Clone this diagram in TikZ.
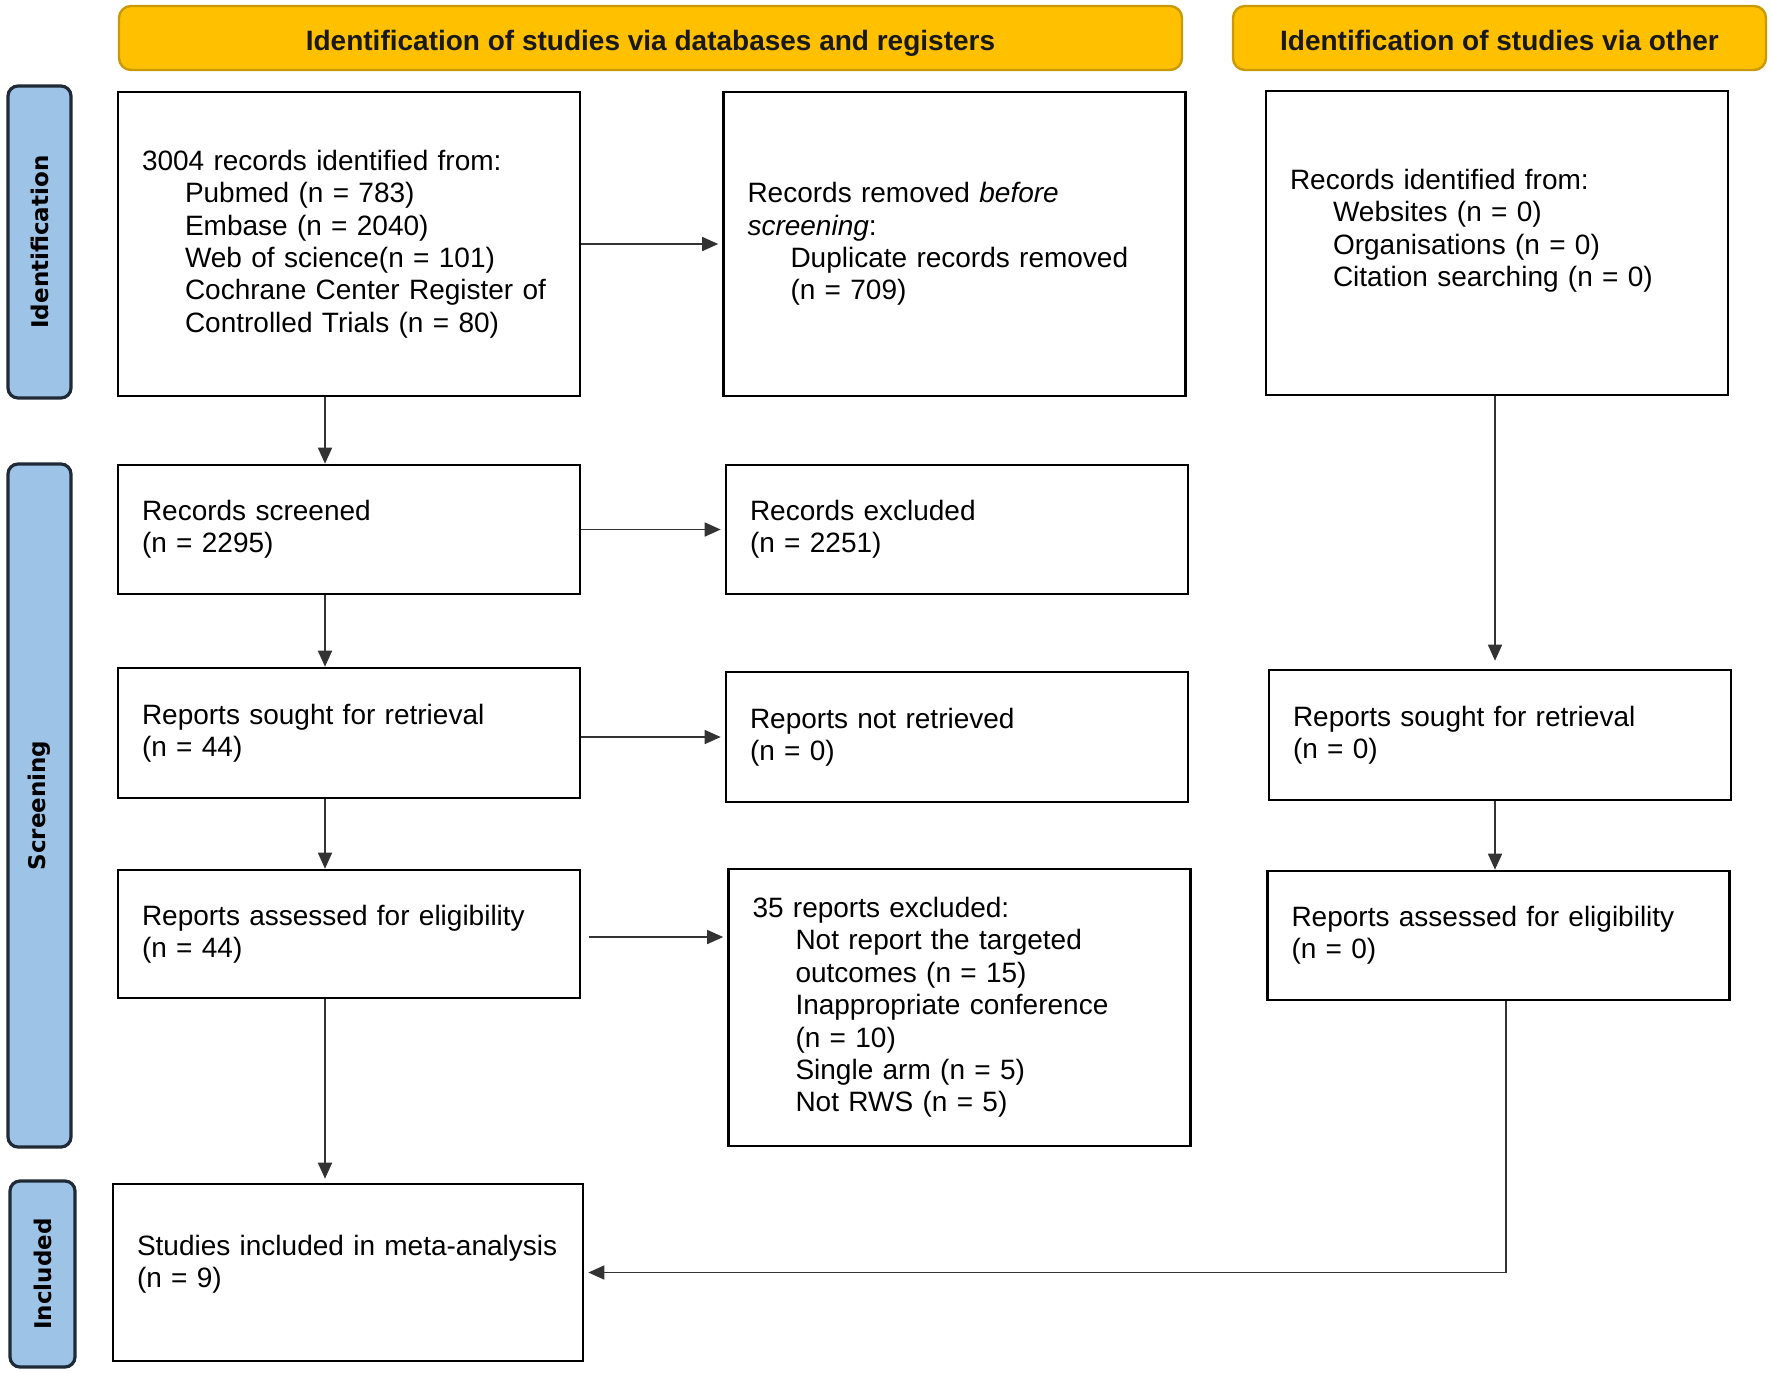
\documentclass[tikz,border=0pt]{standalone}
\usepackage{fontspec}
\setmainfont{Liberation Sans}
\newfontfamily\sidefont{DejaVu Sans}
\usetikzlibrary{arrows.meta,calc}
\definecolor{hdrfill}{HTML}{FFC000}
\definecolor{hdrline}{HTML}{C99A06}
\definecolor{sidefill}{HTML}{9DC3E6}
\definecolor{sideline}{HTML}{1F2A36}
\definecolor{conn}{HTML}{333333}
\begin{document}
\begin{tikzpicture}[x=0.5pt,y=-0.5pt,
  box/.style={draw=black, line width=1.3pt, fill=white, inner xsep=12pt, inner ysep=4pt,
    align=left, text width=207pt, minimum width=231pt,
    font=\fontsize{14}{16.2}\selectfont},
  hdr/.style={draw=hdrline, fill=hdrfill, line width=1.2pt, rounded corners=6pt,
    minimum height=32pt, text height=13pt, text depth=1pt,
    font=\bfseries\fontsize{14}{16}\selectfont, text=black!90},
  side/.style={draw=sideline, fill=sidefill, line width=1.6pt, rounded corners=5pt,
    rotate=90, font=\sidefont\fontsize{11.5}{13}\selectfont\bfseries},
  arr/.style={draw=conn, line width=0.8pt, -{Triangle[length=8pt,width=7pt]}}
]
\useasboundingbox (0,0) rectangle (1772,1373);
\newcommand{\indt}{\hspace*{21.5pt}}

% headers
\node[hdr, minimum width=531.5pt] (h1) at (650.5,38) {Identification of studies via databases and registers};
\node[hdr, minimum width=266.5pt] (h2) at (1499.5,38) {Identification of studies via other};

% side labels
\node[side, minimum width=156pt, minimum height=31.5pt] (sid) at (39.5,242) {Identification};
\node[side, minimum width=341.5pt, minimum height=31.5pt] (ssc) at (39.5,805.5) {Screening};
\node[side, minimum width=93pt, minimum height=32.5pt] (sin) at (42.5,1274) {Included};

% boxes
\node[box, minimum height=152pt] (b1) at (349,244) {3004 records identified from:\\
\indt Pubmed (n = 783)\\
\indt Embase (n = 2040)\\
\indt Web of science(n = 101)\\
\indt Cochrane Center Register of\\
\indt Controlled Trials (n = 80)};

\node[box, minimum height=152pt] (b2) at (954.5,244) {Records removed \textit{before}\\
\textit{screening}:\\
\indt Duplicate records removed\\
\indt (n = 709)};

\node[box, minimum height=152pt] (b3) at (1497,243) {Records identified from:\\
\indt Websites (n = 0)\\
\indt Organisations (n = 0)\\
\indt Citation searching (n = 0)\\[-1pt]\mbox{}};

\node[box, minimum height=64.5pt] (scr) at (349,529.5) {Records screened\\(n = 2295)};
\node[box, minimum height=64.5pt] (exc) at (957,529.5) {Records excluded\\(n = 2251)};

\node[box, minimum height=65pt] (sou) at (349,733) {Reports sought for retrieval\\(n = 44)};
\node[box, minimum height=65pt] (nr) at (957,737) {Reports not retrieved\\(n = 0)};
\node[box, minimum height=65pt] (sou2) at (1500,735) {Reports sought for retrieval\\(n = 0)};

\node[box, minimum height=64pt] (ass) at (349,934) {Reports assessed for eligibility\\(n = 44)};
\node[box, minimum height=138.5pt] (ex) at (959.5,1007.5) {35 reports excluded:\\
\indt Not report the targeted\\
\indt outcomes (n = 15)\\
\indt Inappropriate conference\\
\indt (n = 10)\\
\indt Single arm (n = 5)\\
\indt Not RWS (n = 5)};
\node[box, minimum height=64.5pt] (ass2) at (1498.5,935.5) {Reports assessed for eligibility\\(n = 0)};

\node[box, minimum height=88.5pt, minimum width=235pt, text width=211pt] (inc) at (348,1272.5) {Studies included in meta-analysis\\(n = 9)\\[-5pt]\mbox{}};

% helper coordinates
\coordinate (xl) at (325,0);
\coordinate (xr) at (1495,0);
\coordinate (xr2) at (1506,0);
\coordinate (ya) at (0,937);

% connectors
\draw[arr, shorten >=2pt] (b1.east) -- (b2.west);
\draw[arr, shorten >=2pt] (scr.east) -- (exc.west);
\draw[arr, shorten >=2pt] (nr.west -| sou.east) -- (nr.west);
\draw[arr, shorten <=4pt, shorten >=2pt] (ass.east |- ya) -- (ex.west |- ya);

\draw[arr] (b1.south -| xl) -- (scr.north -| xl);
\draw[arr] (scr.south -| xl) -- (sou.north -| xl);
\draw[arr] (sou.south -| xl) -- (ass.north -| xl);
\draw[arr, shorten >=2pt] (ass.south -| xl) -- (inc.north -| xl);

\draw[arr, shorten >=4pt] (b3.south -| xr) -- (sou2.north -| xr);
\draw[arr] (sou2.south -| xr) -- (ass2.north -| xr);
\draw[arr, shorten >=2pt] (ass2.south -| xr2) |- (inc.east);
\end{tikzpicture}
\end{document}
